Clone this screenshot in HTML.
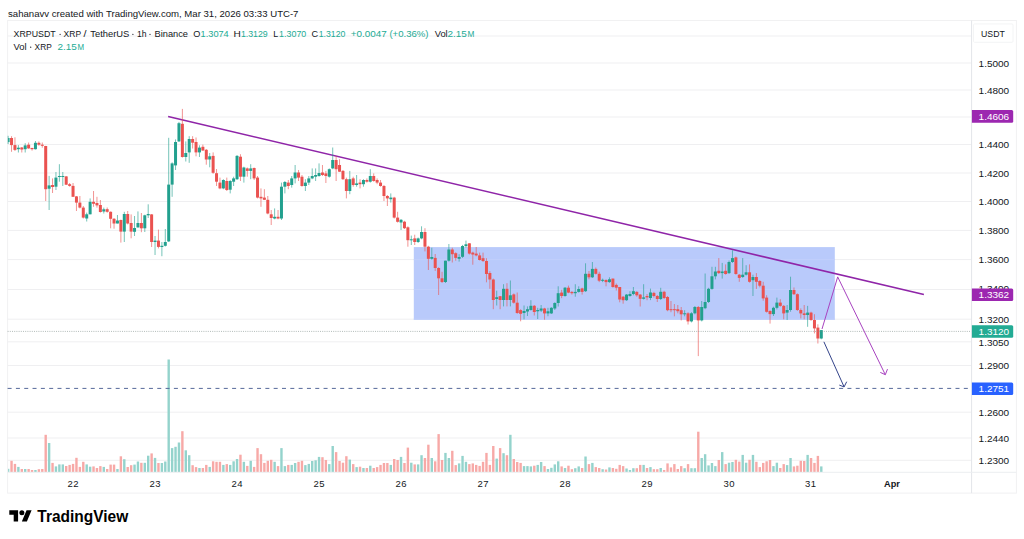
<!DOCTYPE html>
<html><head><meta charset="utf-8"><style>
html,body{margin:0;padding:0;background:#fff;width:1024px;height:539px;overflow:hidden}
svg{position:absolute;left:0;top:0}
text{font-family:"Liberation Sans",sans-serif}
</style></head><body>
<svg width="1024" height="539" viewBox="0 0 1024 539">

<text x="8" y="16.8" font-size="9.6" fill="#131722">sahanavv created with TradingView.com, Mar 31, 2026 03:33 UTC-7</text>
<rect x="7.6" y="20.5" width="1008.8" height="472.6" fill="#fff" stroke="#f1f1f2" stroke-width="1"/>
<line x1="7.6" y1="36" x2="971.6" y2="36" stroke="#efeff1" stroke-width="1"/>
<line x1="7.6" y1="63" x2="971.6" y2="63" stroke="#efeff1" stroke-width="1"/>
<line x1="7.6" y1="90" x2="971.6" y2="90" stroke="#efeff1" stroke-width="1"/>
<line x1="7.6" y1="117" x2="971.6" y2="117" stroke="#efeff1" stroke-width="1"/>
<line x1="7.6" y1="144.5" x2="971.6" y2="144.5" stroke="#efeff1" stroke-width="1"/>
<line x1="7.6" y1="173" x2="971.6" y2="173" stroke="#efeff1" stroke-width="1"/>
<line x1="7.6" y1="201.5" x2="971.6" y2="201.5" stroke="#efeff1" stroke-width="1"/>
<line x1="7.6" y1="230.4" x2="971.6" y2="230.4" stroke="#efeff1" stroke-width="1"/>
<line x1="7.6" y1="259.6" x2="971.6" y2="259.6" stroke="#efeff1" stroke-width="1"/>
<line x1="7.6" y1="289.5" x2="971.6" y2="289.5" stroke="#efeff1" stroke-width="1"/>
<line x1="7.6" y1="319.2" x2="971.6" y2="319.2" stroke="#efeff1" stroke-width="1"/>
<line x1="7.6" y1="341.8" x2="971.6" y2="341.8" stroke="#efeff1" stroke-width="1"/>
<line x1="7.6" y1="365.5" x2="971.6" y2="365.5" stroke="#efeff1" stroke-width="1"/>
<line x1="7.6" y1="412.2" x2="971.6" y2="412.2" stroke="#efeff1" stroke-width="1"/>
<line x1="7.6" y1="438" x2="971.6" y2="438" stroke="#efeff1" stroke-width="1"/>
<line x1="7.6" y1="460.3" x2="971.6" y2="460.3" stroke="#efeff1" stroke-width="1"/>
<rect x="413.8" y="247.1" width="421" height="72.7" fill="#b9cafb"/>
<line x1="413.8" y1="259.6" x2="834.8" y2="259.6" stroke="#c0cffb" stroke-width="1"/>
<line x1="413.8" y1="289.5" x2="834.8" y2="289.5" stroke="#c0cffb" stroke-width="1"/>
<line x1="413.8" y1="319.2" x2="834.8" y2="319.2" stroke="#c0cffb" stroke-width="1"/>
<rect x="8.10" y="468.8" width="1.22" height="3.20" fill="#94d3cc"/>
<rect x="10.34" y="460.8" width="2.40" height="11.20" fill="#f7a9a7"/>
<rect x="13.75" y="463.9" width="2.40" height="8.10" fill="#f7a9a7"/>
<rect x="17.17" y="466.9" width="2.40" height="5.10" fill="#94d3cc"/>
<rect x="20.59" y="469.0" width="2.40" height="3.00" fill="#f7a9a7"/>
<rect x="24.00" y="469.0" width="2.40" height="3.00" fill="#94d3cc"/>
<rect x="27.42" y="469.0" width="2.40" height="3.00" fill="#f7a9a7"/>
<rect x="30.84" y="470.0" width="2.40" height="2.00" fill="#f7a9a7"/>
<rect x="34.25" y="470.0" width="2.40" height="2.00" fill="#94d3cc"/>
<rect x="37.67" y="469.2" width="2.40" height="2.80" fill="#f7a9a7"/>
<rect x="41.09" y="469.0" width="2.40" height="3.00" fill="#f7a9a7"/>
<rect x="44.50" y="434.8" width="2.40" height="37.20" fill="#f7a9a7"/>
<rect x="47.92" y="443.0" width="2.40" height="29.00" fill="#94d3cc"/>
<rect x="51.34" y="462.9" width="2.40" height="9.10" fill="#f7a9a7"/>
<rect x="54.75" y="466.4" width="2.40" height="5.60" fill="#94d3cc"/>
<rect x="58.17" y="464.4" width="2.40" height="7.60" fill="#94d3cc"/>
<rect x="61.59" y="464.4" width="2.40" height="7.60" fill="#94d3cc"/>
<rect x="65.00" y="466.0" width="2.40" height="6.00" fill="#f7a9a7"/>
<rect x="68.42" y="464.9" width="2.40" height="7.10" fill="#f7a9a7"/>
<rect x="71.84" y="463.9" width="2.40" height="8.10" fill="#f7a9a7"/>
<rect x="75.25" y="457.8" width="2.40" height="14.20" fill="#f7a9a7"/>
<rect x="78.67" y="466.9" width="2.40" height="5.10" fill="#f7a9a7"/>
<rect x="82.09" y="461.8" width="2.40" height="10.20" fill="#f7a9a7"/>
<rect x="85.50" y="464.4" width="2.40" height="7.60" fill="#94d3cc"/>
<rect x="88.92" y="466.7" width="2.40" height="5.30" fill="#94d3cc"/>
<rect x="92.34" y="466.4" width="2.40" height="5.60" fill="#f7a9a7"/>
<rect x="95.75" y="468.0" width="2.40" height="4.00" fill="#f7a9a7"/>
<rect x="99.17" y="466.1" width="2.40" height="5.90" fill="#f7a9a7"/>
<rect x="102.59" y="466.9" width="2.40" height="5.10" fill="#94d3cc"/>
<rect x="106.00" y="469.0" width="2.40" height="3.00" fill="#f7a9a7"/>
<rect x="109.42" y="464.6" width="2.40" height="7.40" fill="#f7a9a7"/>
<rect x="112.84" y="464.6" width="2.40" height="7.40" fill="#f7a9a7"/>
<rect x="116.25" y="469.0" width="2.40" height="3.00" fill="#94d3cc"/>
<rect x="119.67" y="456.3" width="2.40" height="15.70" fill="#f7a9a7"/>
<rect x="123.09" y="459.2" width="2.40" height="12.80" fill="#94d3cc"/>
<rect x="126.50" y="467.0" width="2.40" height="5.00" fill="#f7a9a7"/>
<rect x="129.92" y="465.2" width="2.40" height="6.80" fill="#f7a9a7"/>
<rect x="133.34" y="464.6" width="2.40" height="7.40" fill="#94d3cc"/>
<rect x="136.75" y="461.5" width="2.40" height="10.50" fill="#94d3cc"/>
<rect x="140.17" y="462.8" width="2.40" height="9.20" fill="#f7a9a7"/>
<rect x="143.59" y="462.8" width="2.40" height="9.20" fill="#94d3cc"/>
<rect x="147.00" y="455.7" width="2.40" height="16.30" fill="#94d3cc"/>
<rect x="150.42" y="453.4" width="2.40" height="18.60" fill="#f7a9a7"/>
<rect x="153.84" y="457.9" width="2.40" height="14.10" fill="#94d3cc"/>
<rect x="157.25" y="463.0" width="2.40" height="9.00" fill="#f7a9a7"/>
<rect x="160.67" y="463.0" width="2.40" height="9.00" fill="#94d3cc"/>
<rect x="164.09" y="461.5" width="2.40" height="10.50" fill="#94d3cc"/>
<rect x="167.50" y="359.5" width="2.40" height="112.50" fill="#94d3cc"/>
<rect x="170.92" y="448.1" width="2.40" height="23.90" fill="#94d3cc"/>
<rect x="174.34" y="446.8" width="2.40" height="25.20" fill="#94d3cc"/>
<rect x="177.76" y="442.5" width="2.40" height="29.50" fill="#94d3cc"/>
<rect x="181.17" y="431.2" width="2.40" height="40.80" fill="#f7a9a7"/>
<rect x="184.59" y="450.3" width="2.40" height="21.70" fill="#94d3cc"/>
<rect x="188.01" y="455.2" width="2.40" height="16.80" fill="#94d3cc"/>
<rect x="191.42" y="465.2" width="2.40" height="6.80" fill="#f7a9a7"/>
<rect x="194.84" y="467.1" width="2.40" height="4.90" fill="#f7a9a7"/>
<rect x="198.26" y="468.0" width="2.40" height="4.00" fill="#94d3cc"/>
<rect x="201.67" y="468.0" width="2.40" height="4.00" fill="#f7a9a7"/>
<rect x="205.09" y="464.9" width="2.40" height="7.10" fill="#f7a9a7"/>
<rect x="208.51" y="466.9" width="2.40" height="5.10" fill="#94d3cc"/>
<rect x="211.92" y="461.3" width="2.40" height="10.70" fill="#f7a9a7"/>
<rect x="215.34" y="461.8" width="2.40" height="10.20" fill="#f7a9a7"/>
<rect x="218.76" y="461.8" width="2.40" height="10.20" fill="#f7a9a7"/>
<rect x="222.17" y="464.9" width="2.40" height="7.10" fill="#94d3cc"/>
<rect x="225.59" y="464.1" width="2.40" height="7.90" fill="#f7a9a7"/>
<rect x="229.01" y="464.9" width="2.40" height="7.10" fill="#94d3cc"/>
<rect x="232.42" y="461.3" width="2.40" height="10.70" fill="#94d3cc"/>
<rect x="235.84" y="459.0" width="2.40" height="13.00" fill="#94d3cc"/>
<rect x="239.26" y="454.7" width="2.40" height="17.30" fill="#f7a9a7"/>
<rect x="242.67" y="461.8" width="2.40" height="10.20" fill="#94d3cc"/>
<rect x="246.09" y="465.9" width="2.40" height="6.10" fill="#f7a9a7"/>
<rect x="249.51" y="460.8" width="2.40" height="11.20" fill="#94d3cc"/>
<rect x="252.92" y="466.9" width="2.40" height="5.10" fill="#f7a9a7"/>
<rect x="256.34" y="448.1" width="2.40" height="23.90" fill="#f7a9a7"/>
<rect x="259.76" y="454.2" width="2.40" height="17.80" fill="#f7a9a7"/>
<rect x="263.17" y="462.9" width="2.40" height="9.10" fill="#f7a9a7"/>
<rect x="266.59" y="460.8" width="2.40" height="11.20" fill="#f7a9a7"/>
<rect x="270.01" y="459.8" width="2.40" height="12.20" fill="#f7a9a7"/>
<rect x="273.42" y="461.8" width="2.40" height="10.20" fill="#94d3cc"/>
<rect x="276.84" y="466.1" width="2.40" height="5.90" fill="#f7a9a7"/>
<rect x="280.26" y="448.1" width="2.40" height="23.90" fill="#94d3cc"/>
<rect x="283.67" y="466.1" width="2.40" height="5.90" fill="#94d3cc"/>
<rect x="287.09" y="464.9" width="2.40" height="7.10" fill="#f7a9a7"/>
<rect x="290.51" y="464.9" width="2.40" height="7.10" fill="#94d3cc"/>
<rect x="293.92" y="463.0" width="2.40" height="9.00" fill="#94d3cc"/>
<rect x="297.34" y="461.8" width="2.40" height="10.20" fill="#f7a9a7"/>
<rect x="300.76" y="460.8" width="2.40" height="11.20" fill="#f7a9a7"/>
<rect x="304.17" y="465.1" width="2.40" height="6.90" fill="#94d3cc"/>
<rect x="307.59" y="463.9" width="2.40" height="8.10" fill="#94d3cc"/>
<rect x="311.01" y="461.0" width="2.40" height="11.00" fill="#94d3cc"/>
<rect x="314.42" y="460.3" width="2.40" height="11.70" fill="#94d3cc"/>
<rect x="317.84" y="456.9" width="2.40" height="15.10" fill="#94d3cc"/>
<rect x="321.26" y="457.2" width="2.40" height="14.80" fill="#f7a9a7"/>
<rect x="324.67" y="460.0" width="2.40" height="12.00" fill="#f7a9a7"/>
<rect x="328.09" y="464.1" width="2.40" height="7.90" fill="#94d3cc"/>
<rect x="331.51" y="446.0" width="2.40" height="26.00" fill="#94d3cc"/>
<rect x="334.92" y="452.1" width="2.40" height="19.90" fill="#f7a9a7"/>
<rect x="338.34" y="461.0" width="2.40" height="11.00" fill="#f7a9a7"/>
<rect x="341.76" y="462.7" width="2.40" height="9.30" fill="#f7a9a7"/>
<rect x="345.17" y="456.2" width="2.40" height="15.80" fill="#f7a9a7"/>
<rect x="348.59" y="459.6" width="2.40" height="12.40" fill="#94d3cc"/>
<rect x="352.01" y="464.1" width="2.40" height="7.90" fill="#f7a9a7"/>
<rect x="355.42" y="467.1" width="2.40" height="4.90" fill="#94d3cc"/>
<rect x="358.84" y="466.7" width="2.40" height="5.30" fill="#f7a9a7"/>
<rect x="362.26" y="468.0" width="2.40" height="4.00" fill="#94d3cc"/>
<rect x="365.67" y="468.0" width="2.40" height="4.00" fill="#f7a9a7"/>
<rect x="369.09" y="465.7" width="2.40" height="6.30" fill="#94d3cc"/>
<rect x="372.51" y="468.0" width="2.40" height="4.00" fill="#f7a9a7"/>
<rect x="375.92" y="467.1" width="2.40" height="4.90" fill="#f7a9a7"/>
<rect x="379.34" y="464.9" width="2.40" height="7.10" fill="#f7a9a7"/>
<rect x="382.76" y="463.0" width="2.40" height="9.00" fill="#f7a9a7"/>
<rect x="386.17" y="463.0" width="2.40" height="9.00" fill="#f7a9a7"/>
<rect x="389.59" y="464.9" width="2.40" height="7.10" fill="#94d3cc"/>
<rect x="393.01" y="459.0" width="2.40" height="13.00" fill="#f7a9a7"/>
<rect x="396.42" y="460.0" width="2.40" height="12.00" fill="#f7a9a7"/>
<rect x="399.84" y="456.9" width="2.40" height="15.10" fill="#94d3cc"/>
<rect x="403.26" y="463.0" width="2.40" height="9.00" fill="#f7a9a7"/>
<rect x="406.67" y="447.6" width="2.40" height="24.40" fill="#f7a9a7"/>
<rect x="410.09" y="462.7" width="2.40" height="9.30" fill="#94d3cc"/>
<rect x="413.51" y="464.4" width="2.40" height="7.60" fill="#f7a9a7"/>
<rect x="416.92" y="464.4" width="2.40" height="7.60" fill="#94d3cc"/>
<rect x="420.34" y="455.2" width="2.40" height="16.80" fill="#94d3cc"/>
<rect x="423.76" y="458.0" width="2.40" height="14.00" fill="#f7a9a7"/>
<rect x="427.17" y="444.7" width="2.40" height="27.30" fill="#f7a9a7"/>
<rect x="430.59" y="458.0" width="2.40" height="14.00" fill="#94d3cc"/>
<rect x="434.01" y="461.3" width="2.40" height="10.70" fill="#f7a9a7"/>
<rect x="437.42" y="434.1" width="2.40" height="37.90" fill="#f7a9a7"/>
<rect x="440.84" y="460.0" width="2.40" height="12.00" fill="#f7a9a7"/>
<rect x="444.26" y="452.9" width="2.40" height="19.10" fill="#94d3cc"/>
<rect x="447.67" y="458.0" width="2.40" height="14.00" fill="#94d3cc"/>
<rect x="451.09" y="450.8" width="2.40" height="21.20" fill="#f7a9a7"/>
<rect x="454.51" y="465.1" width="2.40" height="6.90" fill="#f7a9a7"/>
<rect x="457.92" y="463.4" width="2.40" height="8.60" fill="#94d3cc"/>
<rect x="461.34" y="455.9" width="2.40" height="16.10" fill="#94d3cc"/>
<rect x="464.76" y="461.8" width="2.40" height="10.20" fill="#94d3cc"/>
<rect x="468.17" y="464.1" width="2.40" height="7.90" fill="#f7a9a7"/>
<rect x="471.59" y="463.4" width="2.40" height="8.60" fill="#f7a9a7"/>
<rect x="475.01" y="464.9" width="2.40" height="7.10" fill="#f7a9a7"/>
<rect x="478.42" y="465.9" width="2.40" height="6.10" fill="#f7a9a7"/>
<rect x="481.84" y="461.8" width="2.40" height="10.20" fill="#f7a9a7"/>
<rect x="485.26" y="452.9" width="2.40" height="19.10" fill="#f7a9a7"/>
<rect x="488.67" y="464.9" width="2.40" height="7.10" fill="#f7a9a7"/>
<rect x="492.09" y="446.0" width="2.40" height="26.00" fill="#f7a9a7"/>
<rect x="495.51" y="458.6" width="2.40" height="13.40" fill="#94d3cc"/>
<rect x="498.92" y="448.1" width="2.40" height="23.90" fill="#f7a9a7"/>
<rect x="502.34" y="453.2" width="2.40" height="18.80" fill="#94d3cc"/>
<rect x="505.76" y="455.2" width="2.40" height="16.80" fill="#f7a9a7"/>
<rect x="509.17" y="434.8" width="2.40" height="37.20" fill="#94d3cc"/>
<rect x="512.59" y="459.0" width="2.40" height="13.00" fill="#f7a9a7"/>
<rect x="516.01" y="462.0" width="2.40" height="10.00" fill="#f7a9a7"/>
<rect x="519.42" y="462.9" width="2.40" height="9.10" fill="#f7a9a7"/>
<rect x="522.84" y="466.1" width="2.40" height="5.90" fill="#94d3cc"/>
<rect x="526.26" y="466.1" width="2.40" height="5.90" fill="#94d3cc"/>
<rect x="529.68" y="466.4" width="2.40" height="5.60" fill="#94d3cc"/>
<rect x="533.09" y="465.7" width="2.40" height="6.30" fill="#f7a9a7"/>
<rect x="536.51" y="464.9" width="2.40" height="7.10" fill="#94d3cc"/>
<rect x="539.93" y="462.0" width="2.40" height="10.00" fill="#94d3cc"/>
<rect x="543.34" y="466.1" width="2.40" height="5.90" fill="#f7a9a7"/>
<rect x="546.76" y="469.0" width="2.40" height="3.00" fill="#94d3cc"/>
<rect x="550.18" y="467.8" width="2.40" height="4.20" fill="#94d3cc"/>
<rect x="553.59" y="464.4" width="2.40" height="7.60" fill="#94d3cc"/>
<rect x="557.01" y="461.3" width="2.40" height="10.70" fill="#94d3cc"/>
<rect x="560.43" y="466.4" width="2.40" height="5.60" fill="#f7a9a7"/>
<rect x="563.84" y="468.0" width="2.40" height="4.00" fill="#94d3cc"/>
<rect x="567.26" y="465.7" width="2.40" height="6.30" fill="#f7a9a7"/>
<rect x="570.68" y="469.2" width="2.40" height="2.80" fill="#f7a9a7"/>
<rect x="574.09" y="468.2" width="2.40" height="3.80" fill="#94d3cc"/>
<rect x="577.51" y="466.4" width="2.40" height="5.60" fill="#94d3cc"/>
<rect x="580.93" y="468.0" width="2.40" height="4.00" fill="#f7a9a7"/>
<rect x="584.34" y="456.5" width="2.40" height="15.50" fill="#94d3cc"/>
<rect x="587.76" y="464.1" width="2.40" height="7.90" fill="#f7a9a7"/>
<rect x="591.18" y="462.9" width="2.40" height="9.10" fill="#94d3cc"/>
<rect x="594.59" y="467.1" width="2.40" height="4.90" fill="#f7a9a7"/>
<rect x="598.01" y="468.0" width="2.40" height="4.00" fill="#f7a9a7"/>
<rect x="601.43" y="469.2" width="2.40" height="2.80" fill="#94d3cc"/>
<rect x="604.84" y="469.5" width="2.40" height="2.50" fill="#f7a9a7"/>
<rect x="608.26" y="467.4" width="2.40" height="4.60" fill="#94d3cc"/>
<rect x="611.68" y="468.0" width="2.40" height="4.00" fill="#f7a9a7"/>
<rect x="615.09" y="468.8" width="2.40" height="3.20" fill="#f7a9a7"/>
<rect x="618.51" y="464.9" width="2.40" height="7.10" fill="#f7a9a7"/>
<rect x="621.93" y="466.1" width="2.40" height="5.90" fill="#f7a9a7"/>
<rect x="625.34" y="468.5" width="2.40" height="3.50" fill="#94d3cc"/>
<rect x="628.76" y="470.0" width="2.40" height="2.00" fill="#94d3cc"/>
<rect x="632.18" y="468.2" width="2.40" height="3.80" fill="#94d3cc"/>
<rect x="635.59" y="468.2" width="2.40" height="3.80" fill="#f7a9a7"/>
<rect x="639.01" y="464.9" width="2.40" height="7.10" fill="#f7a9a7"/>
<rect x="642.43" y="464.9" width="2.40" height="7.10" fill="#94d3cc"/>
<rect x="645.84" y="468.0" width="2.40" height="4.00" fill="#f7a9a7"/>
<rect x="649.26" y="467.1" width="2.40" height="4.90" fill="#94d3cc"/>
<rect x="652.68" y="469.2" width="2.40" height="2.80" fill="#f7a9a7"/>
<rect x="656.09" y="469.2" width="2.40" height="2.80" fill="#f7a9a7"/>
<rect x="659.51" y="468.0" width="2.40" height="4.00" fill="#94d3cc"/>
<rect x="662.93" y="470.0" width="2.40" height="2.00" fill="#f7a9a7"/>
<rect x="666.34" y="463.4" width="2.40" height="8.60" fill="#f7a9a7"/>
<rect x="669.76" y="467.4" width="2.40" height="4.60" fill="#f7a9a7"/>
<rect x="673.18" y="464.1" width="2.40" height="7.90" fill="#f7a9a7"/>
<rect x="676.59" y="469.0" width="2.40" height="3.00" fill="#f7a9a7"/>
<rect x="680.01" y="466.1" width="2.40" height="5.90" fill="#f7a9a7"/>
<rect x="683.43" y="468.2" width="2.40" height="3.80" fill="#94d3cc"/>
<rect x="686.84" y="464.1" width="2.40" height="7.90" fill="#f7a9a7"/>
<rect x="690.26" y="468.2" width="2.40" height="3.80" fill="#94d3cc"/>
<rect x="693.68" y="468.2" width="2.40" height="3.80" fill="#94d3cc"/>
<rect x="697.09" y="431.7" width="2.40" height="40.30" fill="#f7a9a7"/>
<rect x="700.51" y="458.0" width="2.40" height="14.00" fill="#94d3cc"/>
<rect x="703.93" y="454.2" width="2.40" height="17.80" fill="#94d3cc"/>
<rect x="707.34" y="465.4" width="2.40" height="6.60" fill="#94d3cc"/>
<rect x="710.76" y="463.0" width="2.40" height="9.00" fill="#94d3cc"/>
<rect x="714.18" y="466.1" width="2.40" height="5.90" fill="#94d3cc"/>
<rect x="717.59" y="460.0" width="2.40" height="12.00" fill="#f7a9a7"/>
<rect x="721.01" y="452.1" width="2.40" height="19.90" fill="#94d3cc"/>
<rect x="724.43" y="464.1" width="2.40" height="7.90" fill="#f7a9a7"/>
<rect x="727.84" y="462.7" width="2.40" height="9.30" fill="#94d3cc"/>
<rect x="731.26" y="462.0" width="2.40" height="10.00" fill="#94d3cc"/>
<rect x="734.68" y="459.8" width="2.40" height="12.20" fill="#f7a9a7"/>
<rect x="738.09" y="461.6" width="2.40" height="10.40" fill="#f7a9a7"/>
<rect x="741.51" y="454.9" width="2.40" height="17.10" fill="#94d3cc"/>
<rect x="744.93" y="462.7" width="2.40" height="9.30" fill="#94d3cc"/>
<rect x="748.34" y="459.8" width="2.40" height="12.20" fill="#f7a9a7"/>
<rect x="751.76" y="454.9" width="2.40" height="17.10" fill="#94d3cc"/>
<rect x="755.18" y="461.8" width="2.40" height="10.20" fill="#f7a9a7"/>
<rect x="758.59" y="467.1" width="2.40" height="4.90" fill="#f7a9a7"/>
<rect x="762.01" y="462.9" width="2.40" height="9.10" fill="#f7a9a7"/>
<rect x="765.43" y="461.3" width="2.40" height="10.70" fill="#f7a9a7"/>
<rect x="768.84" y="460.0" width="2.40" height="12.00" fill="#f7a9a7"/>
<rect x="772.26" y="466.1" width="2.40" height="5.90" fill="#94d3cc"/>
<rect x="775.68" y="462.7" width="2.40" height="9.30" fill="#94d3cc"/>
<rect x="779.09" y="468.0" width="2.40" height="4.00" fill="#f7a9a7"/>
<rect x="782.51" y="464.1" width="2.40" height="7.90" fill="#f7a9a7"/>
<rect x="785.93" y="465.1" width="2.40" height="6.90" fill="#94d3cc"/>
<rect x="789.34" y="458.0" width="2.40" height="14.00" fill="#94d3cc"/>
<rect x="792.76" y="466.4" width="2.40" height="5.60" fill="#f7a9a7"/>
<rect x="796.18" y="465.7" width="2.40" height="6.30" fill="#f7a9a7"/>
<rect x="799.59" y="460.8" width="2.40" height="11.20" fill="#f7a9a7"/>
<rect x="803.01" y="461.0" width="2.40" height="11.00" fill="#f7a9a7"/>
<rect x="806.43" y="454.9" width="2.40" height="17.10" fill="#94d3cc"/>
<rect x="809.84" y="458.0" width="2.40" height="14.00" fill="#f7a9a7"/>
<rect x="813.26" y="462.9" width="2.40" height="9.10" fill="#f7a9a7"/>
<rect x="816.68" y="455.9" width="2.40" height="16.10" fill="#f7a9a7"/>
<rect x="820.09" y="466.4" width="2.40" height="5.60" fill="#94d3cc"/>
<line x1="168.1" y1="116.5" x2="923.9" y2="294.5" stroke="#8f25a8" stroke-width="1.6"/>
<rect x="7.62" y="135.8" width="1" height="8.20" fill="#22a08e" fill-opacity="0.62"/>
<rect x="8.10" y="138" width="1.52" height="4.10" fill="#22a08e"/>
<rect x="11.04" y="136.2" width="1" height="15.60" fill="#ea5250" fill-opacity="0.62"/>
<rect x="10.04" y="138" width="3.00" height="7.10" fill="#ea5250"/>
<rect x="14.45" y="137.3" width="1" height="13.70" fill="#ea5250" fill-opacity="0.62"/>
<rect x="13.45" y="145.1" width="3.00" height="4.80" fill="#ea5250"/>
<rect x="17.87" y="145.1" width="1" height="7.40" fill="#22a08e" fill-opacity="0.62"/>
<rect x="16.87" y="147.7" width="3.00" height="1.50" fill="#22a08e"/>
<rect x="21.29" y="147" width="1" height="5.50" fill="#ea5250" fill-opacity="0.62"/>
<rect x="20.29" y="147.5" width="3.00" height="2.00" fill="#ea5250"/>
<rect x="24.70" y="143.2" width="1" height="9.30" fill="#22a08e" fill-opacity="0.62"/>
<rect x="23.70" y="145.4" width="3.00" height="3.80" fill="#22a08e"/>
<rect x="28.12" y="142.5" width="1" height="6.30" fill="#ea5250" fill-opacity="0.62"/>
<rect x="27.12" y="144.7" width="3.00" height="3.70" fill="#ea5250"/>
<rect x="31.54" y="147.7" width="1" height="2.90" fill="#ea5250" fill-opacity="0.62"/>
<rect x="30.54" y="148" width="3.00" height="1.20" fill="#ea5250"/>
<rect x="34.95" y="141" width="1" height="8.50" fill="#22a08e" fill-opacity="0.62"/>
<rect x="33.95" y="142.8" width="3.00" height="6.40" fill="#22a08e"/>
<rect x="38.37" y="141.4" width="1" height="4.40" fill="#ea5250" fill-opacity="0.62"/>
<rect x="37.37" y="142.8" width="3.00" height="1.90" fill="#ea5250"/>
<rect x="41.79" y="142.5" width="1" height="5.20" fill="#ea5250" fill-opacity="0.62"/>
<rect x="40.79" y="144.7" width="3.00" height="1.10" fill="#ea5250"/>
<rect x="45.20" y="145.8" width="1" height="55.20" fill="#ea5250" fill-opacity="0.62"/>
<rect x="44.20" y="146.0" width="3.00" height="43.20" fill="#ea5250"/>
<rect x="48.62" y="175.9" width="1" height="34.10" fill="#22a08e" fill-opacity="0.62"/>
<rect x="47.62" y="185.4" width="3.00" height="3.30" fill="#22a08e"/>
<rect x="52.04" y="178.4" width="1" height="14.60" fill="#ea5250" fill-opacity="0.62"/>
<rect x="51.04" y="185" width="3.00" height="2.00" fill="#ea5250"/>
<rect x="55.45" y="172" width="1" height="18.00" fill="#22a08e" fill-opacity="0.62"/>
<rect x="54.45" y="177.6" width="3.00" height="9.10" fill="#22a08e"/>
<rect x="58.87" y="164.2" width="1" height="17.50" fill="#22a08e" fill-opacity="0.62"/>
<rect x="57.87" y="176" width="3.00" height="1.00" fill="#22a08e"/>
<rect x="62.29" y="172" width="1" height="14.00" fill="#22a08e" fill-opacity="0.62"/>
<rect x="61.29" y="176" width="3.00" height="1.00" fill="#22a08e"/>
<rect x="65.70" y="176" width="1" height="9.00" fill="#ea5250" fill-opacity="0.62"/>
<rect x="64.70" y="176.4" width="3.00" height="8.30" fill="#ea5250"/>
<rect x="69.12" y="183" width="1" height="3.70" fill="#ea5250" fill-opacity="0.62"/>
<rect x="68.12" y="184.2" width="3.00" height="1.70" fill="#ea5250"/>
<rect x="72.54" y="183" width="1" height="13.80" fill="#ea5250" fill-opacity="0.62"/>
<rect x="71.54" y="185.9" width="3.00" height="10.90" fill="#ea5250"/>
<rect x="75.95" y="196" width="1" height="15.00" fill="#ea5250" fill-opacity="0.62"/>
<rect x="74.95" y="196.4" width="3.00" height="6.20" fill="#ea5250"/>
<rect x="79.37" y="196" width="1" height="12.40" fill="#ea5250" fill-opacity="0.62"/>
<rect x="78.37" y="202.6" width="3.00" height="5.00" fill="#ea5250"/>
<rect x="82.79" y="206" width="1" height="12.50" fill="#ea5250" fill-opacity="0.62"/>
<rect x="81.79" y="207.6" width="3.00" height="10.00" fill="#ea5250"/>
<rect x="86.20" y="212.6" width="1" height="8.90" fill="#22a08e" fill-opacity="0.62"/>
<rect x="85.20" y="214.3" width="3.00" height="4.20" fill="#22a08e"/>
<rect x="89.62" y="198.4" width="1" height="15.90" fill="#22a08e" fill-opacity="0.62"/>
<rect x="88.62" y="201.8" width="3.00" height="12.50" fill="#22a08e"/>
<rect x="93.04" y="191" width="1" height="15.80" fill="#ea5250" fill-opacity="0.62"/>
<rect x="92.04" y="201.8" width="3.00" height="2.00" fill="#ea5250"/>
<rect x="96.45" y="196.8" width="1" height="10.80" fill="#ea5250" fill-opacity="0.62"/>
<rect x="95.45" y="203" width="3.00" height="2.40" fill="#ea5250"/>
<rect x="99.87" y="200" width="1" height="12.60" fill="#ea5250" fill-opacity="0.62"/>
<rect x="98.87" y="205" width="3.00" height="7.00" fill="#ea5250"/>
<rect x="103.29" y="207.6" width="1" height="5.90" fill="#22a08e" fill-opacity="0.62"/>
<rect x="102.29" y="209.3" width="3.00" height="2.20" fill="#22a08e"/>
<rect x="106.70" y="207.5" width="1" height="5.20" fill="#ea5250" fill-opacity="0.62"/>
<rect x="105.70" y="209.2" width="3.00" height="2.60" fill="#ea5250"/>
<rect x="110.12" y="211.4" width="1" height="16.90" fill="#ea5250" fill-opacity="0.62"/>
<rect x="109.12" y="211.8" width="3.00" height="7.00" fill="#ea5250"/>
<rect x="113.54" y="218" width="1" height="10.70" fill="#ea5250" fill-opacity="0.62"/>
<rect x="112.54" y="218.8" width="3.00" height="4.70" fill="#ea5250"/>
<rect x="116.95" y="215" width="1" height="8.50" fill="#22a08e" fill-opacity="0.62"/>
<rect x="115.95" y="220.5" width="3.00" height="3.00" fill="#22a08e"/>
<rect x="120.37" y="219.6" width="1" height="23.00" fill="#ea5250" fill-opacity="0.62"/>
<rect x="119.37" y="220" width="3.00" height="11.60" fill="#ea5250"/>
<rect x="123.79" y="211.8" width="1" height="30.20" fill="#22a08e" fill-opacity="0.62"/>
<rect x="122.79" y="214" width="3.00" height="17.60" fill="#22a08e"/>
<rect x="127.20" y="211" width="1" height="13.40" fill="#ea5250" fill-opacity="0.62"/>
<rect x="126.20" y="214" width="3.00" height="9.50" fill="#ea5250"/>
<rect x="130.62" y="214.4" width="1" height="23.90" fill="#ea5250" fill-opacity="0.62"/>
<rect x="129.62" y="223" width="3.00" height="8.60" fill="#ea5250"/>
<rect x="134.04" y="216" width="1" height="20.00" fill="#22a08e" fill-opacity="0.62"/>
<rect x="133.04" y="228" width="3.00" height="3.80" fill="#22a08e"/>
<rect x="137.45" y="211.4" width="1" height="16.30" fill="#22a08e" fill-opacity="0.62"/>
<rect x="136.45" y="223" width="3.00" height="4.40" fill="#22a08e"/>
<rect x="140.87" y="213" width="1" height="19.20" fill="#ea5250" fill-opacity="0.62"/>
<rect x="139.87" y="223" width="3.00" height="5.30" fill="#ea5250"/>
<rect x="144.29" y="214.7" width="1" height="17.30" fill="#22a08e" fill-opacity="0.62"/>
<rect x="143.29" y="215.3" width="3.00" height="13.00" fill="#22a08e"/>
<rect x="147.70" y="204.3" width="1" height="13.70" fill="#22a08e" fill-opacity="0.62"/>
<rect x="146.70" y="214" width="3.00" height="1.30" fill="#22a08e"/>
<rect x="151.12" y="214" width="1" height="33.00" fill="#ea5250" fill-opacity="0.62"/>
<rect x="150.12" y="214.4" width="3.00" height="27.60" fill="#ea5250"/>
<rect x="154.54" y="236" width="1" height="19.00" fill="#22a08e" fill-opacity="0.62"/>
<rect x="153.54" y="240.6" width="3.00" height="1.40" fill="#22a08e"/>
<rect x="157.95" y="229.6" width="1" height="18.80" fill="#ea5250" fill-opacity="0.62"/>
<rect x="156.95" y="240.6" width="3.00" height="6.30" fill="#ea5250"/>
<rect x="161.37" y="242" width="1" height="14.20" fill="#22a08e" fill-opacity="0.62"/>
<rect x="160.37" y="245.8" width="3.00" height="1.20" fill="#22a08e"/>
<rect x="164.79" y="229" width="1" height="17.50" fill="#22a08e" fill-opacity="0.62"/>
<rect x="163.79" y="242" width="3.00" height="3.80" fill="#22a08e"/>
<rect x="168.20" y="137.8" width="1" height="104.20" fill="#22a08e" fill-opacity="0.62"/>
<rect x="167.20" y="184.6" width="3.00" height="56.80" fill="#22a08e"/>
<rect x="171.62" y="162.3" width="1" height="34.50" fill="#22a08e" fill-opacity="0.62"/>
<rect x="170.62" y="163.4" width="3.00" height="21.20" fill="#22a08e"/>
<rect x="175.04" y="139.4" width="1" height="30.60" fill="#22a08e" fill-opacity="0.62"/>
<rect x="174.04" y="142" width="3.00" height="23.40" fill="#22a08e"/>
<rect x="178.46" y="121.9" width="1" height="20.10" fill="#22a08e" fill-opacity="0.62"/>
<rect x="177.46" y="123.2" width="3.00" height="18.20" fill="#22a08e"/>
<rect x="181.87" y="108.9" width="1" height="48.70" fill="#ea5250" fill-opacity="0.62"/>
<rect x="180.87" y="123.8" width="3.00" height="33.20" fill="#ea5250"/>
<rect x="185.29" y="141.4" width="1" height="20.10" fill="#22a08e" fill-opacity="0.62"/>
<rect x="184.29" y="153" width="3.00" height="4.00" fill="#22a08e"/>
<rect x="188.71" y="136.2" width="1" height="26.60" fill="#22a08e" fill-opacity="0.62"/>
<rect x="187.71" y="139" width="3.00" height="13.40" fill="#22a08e"/>
<rect x="192.12" y="136.2" width="1" height="12.30" fill="#ea5250" fill-opacity="0.62"/>
<rect x="191.12" y="139" width="3.00" height="3.70" fill="#ea5250"/>
<rect x="195.54" y="137.5" width="1" height="18.80" fill="#ea5250" fill-opacity="0.62"/>
<rect x="194.54" y="142" width="3.00" height="10.40" fill="#ea5250"/>
<rect x="198.96" y="145.3" width="1" height="11.70" fill="#22a08e" fill-opacity="0.62"/>
<rect x="197.96" y="147.6" width="3.00" height="4.80" fill="#22a08e"/>
<rect x="202.37" y="144.6" width="1" height="6.40" fill="#ea5250" fill-opacity="0.62"/>
<rect x="201.37" y="146.8" width="3.00" height="3.70" fill="#ea5250"/>
<rect x="205.79" y="149" width="1" height="15.70" fill="#ea5250" fill-opacity="0.62"/>
<rect x="204.79" y="149.8" width="3.00" height="9.70" fill="#ea5250"/>
<rect x="209.21" y="153" width="1" height="14.30" fill="#22a08e" fill-opacity="0.62"/>
<rect x="208.21" y="156.3" width="3.00" height="3.20" fill="#22a08e"/>
<rect x="212.62" y="152.4" width="1" height="21.40" fill="#ea5250" fill-opacity="0.62"/>
<rect x="211.62" y="155.9" width="3.00" height="16.90" fill="#ea5250"/>
<rect x="216.04" y="169" width="1" height="17.00" fill="#ea5250" fill-opacity="0.62"/>
<rect x="215.04" y="173.2" width="3.00" height="8.50" fill="#ea5250"/>
<rect x="219.46" y="177.6" width="1" height="11.60" fill="#ea5250" fill-opacity="0.62"/>
<rect x="218.46" y="182.6" width="3.00" height="5.80" fill="#ea5250"/>
<rect x="222.87" y="179.2" width="1" height="10.00" fill="#22a08e" fill-opacity="0.62"/>
<rect x="221.87" y="180" width="3.00" height="8.40" fill="#22a08e"/>
<rect x="226.29" y="177.6" width="1" height="13.40" fill="#ea5250" fill-opacity="0.62"/>
<rect x="225.29" y="181" width="3.00" height="9.00" fill="#ea5250"/>
<rect x="229.71" y="180" width="1" height="13.40" fill="#22a08e" fill-opacity="0.62"/>
<rect x="228.71" y="181" width="3.00" height="8.70" fill="#22a08e"/>
<rect x="233.12" y="176.7" width="1" height="9.30" fill="#22a08e" fill-opacity="0.62"/>
<rect x="232.12" y="178.4" width="3.00" height="3.30" fill="#22a08e"/>
<rect x="236.54" y="155" width="1" height="25.00" fill="#22a08e" fill-opacity="0.62"/>
<rect x="235.54" y="155.9" width="3.00" height="23.30" fill="#22a08e"/>
<rect x="239.96" y="154.2" width="1" height="26.80" fill="#ea5250" fill-opacity="0.62"/>
<rect x="238.96" y="156.7" width="3.00" height="20.00" fill="#ea5250"/>
<rect x="243.37" y="166.7" width="1" height="15.90" fill="#22a08e" fill-opacity="0.62"/>
<rect x="242.37" y="167.5" width="3.00" height="9.20" fill="#22a08e"/>
<rect x="246.79" y="167.5" width="1" height="9.20" fill="#ea5250" fill-opacity="0.62"/>
<rect x="245.79" y="168.4" width="3.00" height="2.50" fill="#ea5250"/>
<rect x="250.21" y="164.2" width="1" height="15.00" fill="#22a08e" fill-opacity="0.62"/>
<rect x="249.21" y="168.4" width="3.00" height="2.50" fill="#22a08e"/>
<rect x="253.62" y="167.5" width="1" height="12.50" fill="#ea5250" fill-opacity="0.62"/>
<rect x="252.62" y="168" width="3.00" height="10.40" fill="#ea5250"/>
<rect x="257.04" y="176" width="1" height="22.40" fill="#ea5250" fill-opacity="0.62"/>
<rect x="256.04" y="177.6" width="3.00" height="20.00" fill="#ea5250"/>
<rect x="260.46" y="188.4" width="1" height="18.40" fill="#ea5250" fill-opacity="0.62"/>
<rect x="259.46" y="196.8" width="3.00" height="1.60" fill="#ea5250"/>
<rect x="263.87" y="189.2" width="1" height="10.80" fill="#ea5250" fill-opacity="0.62"/>
<rect x="262.87" y="197.6" width="3.00" height="2.20" fill="#ea5250"/>
<rect x="267.29" y="196" width="1" height="18.30" fill="#ea5250" fill-opacity="0.62"/>
<rect x="266.29" y="199.8" width="3.00" height="13.70" fill="#ea5250"/>
<rect x="270.71" y="210" width="1" height="15.00" fill="#ea5250" fill-opacity="0.62"/>
<rect x="269.71" y="214.3" width="3.00" height="3.70" fill="#ea5250"/>
<rect x="274.12" y="208.4" width="1" height="10.90" fill="#22a08e" fill-opacity="0.62"/>
<rect x="273.12" y="216.8" width="3.00" height="1.70" fill="#22a08e"/>
<rect x="277.54" y="210" width="1" height="9.30" fill="#ea5250" fill-opacity="0.62"/>
<rect x="276.54" y="216.8" width="3.00" height="1.70" fill="#ea5250"/>
<rect x="280.96" y="182.6" width="1" height="37.40" fill="#22a08e" fill-opacity="0.62"/>
<rect x="279.96" y="186.7" width="3.00" height="31.80" fill="#22a08e"/>
<rect x="284.37" y="181" width="1" height="12.40" fill="#22a08e" fill-opacity="0.62"/>
<rect x="283.37" y="182" width="3.00" height="4.70" fill="#22a08e"/>
<rect x="287.79" y="180" width="1" height="9.20" fill="#ea5250" fill-opacity="0.62"/>
<rect x="286.79" y="182.6" width="3.00" height="3.40" fill="#ea5250"/>
<rect x="291.21" y="176" width="1" height="11.60" fill="#22a08e" fill-opacity="0.62"/>
<rect x="290.21" y="178.4" width="3.00" height="6.60" fill="#22a08e"/>
<rect x="294.62" y="165" width="1" height="18.40" fill="#22a08e" fill-opacity="0.62"/>
<rect x="293.62" y="172.5" width="3.00" height="5.90" fill="#22a08e"/>
<rect x="298.04" y="170" width="1" height="11.00" fill="#ea5250" fill-opacity="0.62"/>
<rect x="297.04" y="172.5" width="3.00" height="5.10" fill="#ea5250"/>
<rect x="301.46" y="175" width="1" height="11.70" fill="#ea5250" fill-opacity="0.62"/>
<rect x="300.46" y="176.7" width="3.00" height="9.30" fill="#ea5250"/>
<rect x="304.87" y="179.2" width="1" height="11.80" fill="#22a08e" fill-opacity="0.62"/>
<rect x="303.87" y="182.6" width="3.00" height="3.40" fill="#22a08e"/>
<rect x="308.29" y="176" width="1" height="9.00" fill="#22a08e" fill-opacity="0.62"/>
<rect x="307.29" y="178.4" width="3.00" height="4.20" fill="#22a08e"/>
<rect x="311.71" y="168.4" width="1" height="10.80" fill="#22a08e" fill-opacity="0.62"/>
<rect x="310.71" y="176" width="3.00" height="2.40" fill="#22a08e"/>
<rect x="315.12" y="168.4" width="1" height="12.60" fill="#22a08e" fill-opacity="0.62"/>
<rect x="314.12" y="175" width="3.00" height="1.70" fill="#22a08e"/>
<rect x="318.54" y="163.4" width="1" height="13.30" fill="#22a08e" fill-opacity="0.62"/>
<rect x="317.54" y="173" width="3.00" height="3.00" fill="#22a08e"/>
<rect x="321.96" y="165" width="1" height="11.00" fill="#ea5250" fill-opacity="0.62"/>
<rect x="320.96" y="172.5" width="3.00" height="2.50" fill="#ea5250"/>
<rect x="325.37" y="170.9" width="1" height="12.10" fill="#ea5250" fill-opacity="0.62"/>
<rect x="324.37" y="173.4" width="3.00" height="2.60" fill="#ea5250"/>
<rect x="328.79" y="168.4" width="1" height="9.20" fill="#22a08e" fill-opacity="0.62"/>
<rect x="327.79" y="169.2" width="3.00" height="7.50" fill="#22a08e"/>
<rect x="332.21" y="147.5" width="1" height="21.70" fill="#22a08e" fill-opacity="0.62"/>
<rect x="331.21" y="160" width="3.00" height="8.40" fill="#22a08e"/>
<rect x="335.62" y="155.9" width="1" height="25.10" fill="#ea5250" fill-opacity="0.62"/>
<rect x="334.62" y="160" width="3.00" height="9.20" fill="#ea5250"/>
<rect x="339.04" y="159.2" width="1" height="12.80" fill="#ea5250" fill-opacity="0.62"/>
<rect x="338.04" y="165" width="3.00" height="6.70" fill="#ea5250"/>
<rect x="342.46" y="170" width="1" height="10.00" fill="#ea5250" fill-opacity="0.62"/>
<rect x="341.46" y="170.9" width="3.00" height="8.30" fill="#ea5250"/>
<rect x="345.87" y="177.6" width="1" height="20.80" fill="#ea5250" fill-opacity="0.62"/>
<rect x="344.87" y="179.2" width="3.00" height="11.80" fill="#ea5250"/>
<rect x="349.29" y="170.9" width="1" height="23.30" fill="#22a08e" fill-opacity="0.62"/>
<rect x="348.29" y="179.2" width="3.00" height="11.80" fill="#22a08e"/>
<rect x="352.71" y="176.7" width="1" height="10.00" fill="#ea5250" fill-opacity="0.62"/>
<rect x="351.71" y="178.4" width="3.00" height="6.60" fill="#ea5250"/>
<rect x="356.12" y="175" width="1" height="11.70" fill="#22a08e" fill-opacity="0.62"/>
<rect x="355.12" y="183.4" width="3.00" height="1.60" fill="#22a08e"/>
<rect x="359.54" y="179.2" width="1" height="9.20" fill="#ea5250" fill-opacity="0.62"/>
<rect x="358.54" y="182.6" width="3.00" height="1.60" fill="#ea5250"/>
<rect x="362.96" y="179.2" width="1" height="7.50" fill="#22a08e" fill-opacity="0.62"/>
<rect x="361.96" y="180" width="3.00" height="4.20" fill="#22a08e"/>
<rect x="366.37" y="178.4" width="1" height="4.20" fill="#ea5250" fill-opacity="0.62"/>
<rect x="365.37" y="180" width="3.00" height="1.70" fill="#ea5250"/>
<rect x="369.79" y="169.2" width="1" height="13.40" fill="#22a08e" fill-opacity="0.62"/>
<rect x="368.79" y="176" width="3.00" height="5.70" fill="#22a08e"/>
<rect x="373.21" y="173.4" width="1" height="8.30" fill="#ea5250" fill-opacity="0.62"/>
<rect x="372.21" y="176" width="3.00" height="5.00" fill="#ea5250"/>
<rect x="376.62" y="178.4" width="1" height="5.80" fill="#ea5250" fill-opacity="0.62"/>
<rect x="375.62" y="180" width="3.00" height="2.60" fill="#ea5250"/>
<rect x="380.04" y="180" width="1" height="6.70" fill="#ea5250" fill-opacity="0.62"/>
<rect x="379.04" y="182.6" width="3.00" height="3.40" fill="#ea5250"/>
<rect x="383.46" y="185" width="1" height="16.00" fill="#ea5250" fill-opacity="0.62"/>
<rect x="382.46" y="186" width="3.00" height="10.00" fill="#ea5250"/>
<rect x="386.87" y="195" width="1" height="11.00" fill="#ea5250" fill-opacity="0.62"/>
<rect x="385.87" y="196" width="3.00" height="2.40" fill="#ea5250"/>
<rect x="390.29" y="193.4" width="1" height="9.20" fill="#22a08e" fill-opacity="0.62"/>
<rect x="389.29" y="197.6" width="3.00" height="1.60" fill="#22a08e"/>
<rect x="393.71" y="196.8" width="1" height="21.70" fill="#ea5250" fill-opacity="0.62"/>
<rect x="392.71" y="197.6" width="3.00" height="20.00" fill="#ea5250"/>
<rect x="397.12" y="211.8" width="1" height="10.80" fill="#ea5250" fill-opacity="0.62"/>
<rect x="396.12" y="217.6" width="3.00" height="4.20" fill="#ea5250"/>
<rect x="400.54" y="219" width="1" height="11.00" fill="#22a08e" fill-opacity="0.62"/>
<rect x="399.54" y="219.8" width="3.00" height="2.70" fill="#22a08e"/>
<rect x="403.96" y="220.8" width="1" height="8.20" fill="#ea5250" fill-opacity="0.62"/>
<rect x="402.96" y="221.7" width="3.00" height="6.50" fill="#ea5250"/>
<rect x="407.37" y="226.3" width="1" height="20.40" fill="#ea5250" fill-opacity="0.62"/>
<rect x="406.37" y="227.3" width="3.00" height="12.90" fill="#ea5250"/>
<rect x="410.79" y="235.6" width="1" height="9.40" fill="#22a08e" fill-opacity="0.62"/>
<rect x="409.79" y="239.3" width="3.00" height="1.00" fill="#22a08e"/>
<rect x="414.21" y="234.7" width="1" height="10.30" fill="#ea5250" fill-opacity="0.62"/>
<rect x="413.21" y="238.4" width="3.00" height="3.60" fill="#ea5250"/>
<rect x="417.62" y="237.5" width="1" height="5.50" fill="#22a08e" fill-opacity="0.62"/>
<rect x="416.62" y="238.4" width="3.00" height="3.60" fill="#22a08e"/>
<rect x="421.04" y="226.3" width="1" height="13.00" fill="#22a08e" fill-opacity="0.62"/>
<rect x="420.04" y="232" width="3.00" height="6.40" fill="#22a08e"/>
<rect x="424.46" y="228.2" width="1" height="23.20" fill="#ea5250" fill-opacity="0.62"/>
<rect x="423.46" y="232" width="3.00" height="14.70" fill="#ea5250"/>
<rect x="427.87" y="245.8" width="1" height="24.20" fill="#ea5250" fill-opacity="0.62"/>
<rect x="426.87" y="246.7" width="3.00" height="12.10" fill="#ea5250"/>
<rect x="431.29" y="247.7" width="1" height="12.00" fill="#22a08e" fill-opacity="0.62"/>
<rect x="430.29" y="257" width="3.00" height="1.80" fill="#22a08e"/>
<rect x="434.71" y="254" width="1" height="16.90" fill="#ea5250" fill-opacity="0.62"/>
<rect x="433.71" y="257.9" width="3.00" height="10.10" fill="#ea5250"/>
<rect x="438.12" y="267.2" width="1" height="27.80" fill="#ea5250" fill-opacity="0.62"/>
<rect x="437.12" y="268" width="3.00" height="10.30" fill="#ea5250"/>
<rect x="441.54" y="271.8" width="1" height="11.20" fill="#ea5250" fill-opacity="0.62"/>
<rect x="440.54" y="278.3" width="3.00" height="3.70" fill="#ea5250"/>
<rect x="444.96" y="260.7" width="1" height="22.30" fill="#22a08e" fill-opacity="0.62"/>
<rect x="443.96" y="260.7" width="3.00" height="21.30" fill="#22a08e"/>
<rect x="448.37" y="244" width="1" height="17.60" fill="#22a08e" fill-opacity="0.62"/>
<rect x="447.37" y="249.5" width="3.00" height="11.20" fill="#22a08e"/>
<rect x="451.79" y="247.7" width="1" height="14.80" fill="#ea5250" fill-opacity="0.62"/>
<rect x="450.79" y="249.5" width="3.00" height="4.70" fill="#ea5250"/>
<rect x="455.21" y="252.3" width="1" height="8.40" fill="#ea5250" fill-opacity="0.62"/>
<rect x="454.21" y="253.2" width="3.00" height="4.70" fill="#ea5250"/>
<rect x="458.62" y="254.2" width="1" height="7.40" fill="#22a08e" fill-opacity="0.62"/>
<rect x="457.62" y="257" width="3.00" height="1.80" fill="#22a08e"/>
<rect x="462.04" y="244.9" width="1" height="13.00" fill="#22a08e" fill-opacity="0.62"/>
<rect x="461.04" y="246" width="3.00" height="10.80" fill="#22a08e"/>
<rect x="465.46" y="240.6" width="1" height="7.10" fill="#22a08e" fill-opacity="0.62"/>
<rect x="464.46" y="244.3" width="3.00" height="1.80" fill="#22a08e"/>
<rect x="468.87" y="243.3" width="1" height="11.20" fill="#ea5250" fill-opacity="0.62"/>
<rect x="467.87" y="243.3" width="3.00" height="10.30" fill="#ea5250"/>
<rect x="472.29" y="251.7" width="1" height="13.00" fill="#ea5250" fill-opacity="0.62"/>
<rect x="471.29" y="252.6" width="3.00" height="1.90" fill="#ea5250"/>
<rect x="475.71" y="247" width="1" height="9.30" fill="#ea5250" fill-opacity="0.62"/>
<rect x="474.71" y="253.6" width="3.00" height="1.80" fill="#ea5250"/>
<rect x="479.12" y="252.6" width="1" height="7.90" fill="#ea5250" fill-opacity="0.62"/>
<rect x="478.12" y="255.4" width="3.00" height="4.60" fill="#ea5250"/>
<rect x="482.54" y="252.6" width="1" height="9.40" fill="#ea5250" fill-opacity="0.62"/>
<rect x="481.54" y="258.2" width="3.00" height="2.80" fill="#ea5250"/>
<rect x="485.96" y="258.2" width="1" height="24.10" fill="#ea5250" fill-opacity="0.62"/>
<rect x="484.96" y="261" width="3.00" height="13.00" fill="#ea5250"/>
<rect x="489.37" y="271.2" width="1" height="17.60" fill="#ea5250" fill-opacity="0.62"/>
<rect x="488.37" y="273" width="3.00" height="6.50" fill="#ea5250"/>
<rect x="492.79" y="278.6" width="1" height="30.60" fill="#ea5250" fill-opacity="0.62"/>
<rect x="491.79" y="279.5" width="3.00" height="20.50" fill="#ea5250"/>
<rect x="496.21" y="290.7" width="1" height="14.80" fill="#22a08e" fill-opacity="0.62"/>
<rect x="495.21" y="297.2" width="3.00" height="1.80" fill="#22a08e"/>
<rect x="499.62" y="296" width="1" height="13.20" fill="#ea5250" fill-opacity="0.62"/>
<rect x="498.62" y="296.2" width="3.00" height="3.80" fill="#ea5250"/>
<rect x="503.04" y="284.2" width="1" height="22.20" fill="#22a08e" fill-opacity="0.62"/>
<rect x="502.04" y="288.8" width="3.00" height="11.20" fill="#22a08e"/>
<rect x="506.46" y="283.2" width="1" height="23.20" fill="#ea5250" fill-opacity="0.62"/>
<rect x="505.46" y="288.8" width="3.00" height="11.20" fill="#ea5250"/>
<rect x="509.87" y="280.5" width="1" height="25.90" fill="#22a08e" fill-opacity="0.62"/>
<rect x="508.87" y="295.3" width="3.00" height="4.70" fill="#22a08e"/>
<rect x="513.29" y="293.4" width="1" height="10.20" fill="#ea5250" fill-opacity="0.62"/>
<rect x="512.29" y="294.4" width="3.00" height="8.30" fill="#ea5250"/>
<rect x="516.71" y="292.5" width="1" height="21.30" fill="#ea5250" fill-opacity="0.62"/>
<rect x="515.71" y="302.7" width="3.00" height="10.30" fill="#ea5250"/>
<rect x="520.12" y="309.2" width="1" height="12.10" fill="#ea5250" fill-opacity="0.62"/>
<rect x="519.12" y="310.1" width="3.00" height="3.70" fill="#ea5250"/>
<rect x="523.54" y="305.5" width="1" height="13.90" fill="#22a08e" fill-opacity="0.62"/>
<rect x="522.54" y="311" width="3.00" height="2.00" fill="#22a08e"/>
<rect x="526.96" y="306.4" width="1" height="9.60" fill="#22a08e" fill-opacity="0.62"/>
<rect x="525.96" y="309.2" width="3.00" height="2.30" fill="#22a08e"/>
<rect x="530.38" y="300.2" width="1" height="10.40" fill="#22a08e" fill-opacity="0.62"/>
<rect x="529.38" y="305.8" width="3.00" height="4.20" fill="#22a08e"/>
<rect x="533.79" y="305" width="1" height="10.50" fill="#ea5250" fill-opacity="0.62"/>
<rect x="532.79" y="305.8" width="3.00" height="6.20" fill="#ea5250"/>
<rect x="537.21" y="307.8" width="1" height="11.20" fill="#22a08e" fill-opacity="0.62"/>
<rect x="536.21" y="310" width="3.00" height="1.30" fill="#22a08e"/>
<rect x="540.63" y="305" width="1" height="7.00" fill="#22a08e" fill-opacity="0.62"/>
<rect x="539.63" y="308.5" width="3.00" height="2.10" fill="#22a08e"/>
<rect x="544.04" y="307.8" width="1" height="11.90" fill="#ea5250" fill-opacity="0.62"/>
<rect x="543.04" y="308.5" width="3.00" height="4.90" fill="#ea5250"/>
<rect x="547.46" y="307.8" width="1" height="8.40" fill="#22a08e" fill-opacity="0.62"/>
<rect x="546.46" y="311.3" width="3.00" height="2.10" fill="#22a08e"/>
<rect x="550.88" y="307.2" width="1" height="6.80" fill="#22a08e" fill-opacity="0.62"/>
<rect x="549.88" y="307.8" width="3.00" height="5.60" fill="#22a08e"/>
<rect x="554.29" y="302.3" width="1" height="7.70" fill="#22a08e" fill-opacity="0.62"/>
<rect x="553.29" y="303" width="3.00" height="5.50" fill="#22a08e"/>
<rect x="557.71" y="286.3" width="1" height="20.20" fill="#22a08e" fill-opacity="0.62"/>
<rect x="556.71" y="293.2" width="3.00" height="9.80" fill="#22a08e"/>
<rect x="561.13" y="289.8" width="1" height="8.30" fill="#ea5250" fill-opacity="0.62"/>
<rect x="560.13" y="292.6" width="3.00" height="3.40" fill="#ea5250"/>
<rect x="564.54" y="287" width="1" height="9.70" fill="#22a08e" fill-opacity="0.62"/>
<rect x="563.54" y="287.7" width="3.00" height="8.30" fill="#22a08e"/>
<rect x="567.96" y="285.6" width="1" height="7.60" fill="#ea5250" fill-opacity="0.62"/>
<rect x="566.96" y="287.7" width="3.00" height="4.90" fill="#ea5250"/>
<rect x="571.38" y="291.2" width="1" height="3.40" fill="#ea5250" fill-opacity="0.62"/>
<rect x="570.38" y="291.9" width="3.00" height="1.30" fill="#ea5250"/>
<rect x="574.79" y="284.2" width="1" height="12.50" fill="#22a08e" fill-opacity="0.62"/>
<rect x="573.79" y="291.9" width="3.00" height="1.30" fill="#22a08e"/>
<rect x="578.21" y="286.3" width="1" height="6.30" fill="#22a08e" fill-opacity="0.62"/>
<rect x="577.21" y="289" width="3.00" height="2.90" fill="#22a08e"/>
<rect x="581.63" y="287.7" width="1" height="6.90" fill="#ea5250" fill-opacity="0.62"/>
<rect x="580.63" y="288.4" width="3.00" height="3.50" fill="#ea5250"/>
<rect x="585.04" y="263.3" width="1" height="28.60" fill="#22a08e" fill-opacity="0.62"/>
<rect x="584.04" y="273.8" width="3.00" height="17.40" fill="#22a08e"/>
<rect x="588.46" y="271" width="1" height="8.30" fill="#ea5250" fill-opacity="0.62"/>
<rect x="587.46" y="273.8" width="3.00" height="3.50" fill="#ea5250"/>
<rect x="591.88" y="262" width="1" height="16.00" fill="#22a08e" fill-opacity="0.62"/>
<rect x="590.88" y="268.9" width="3.00" height="8.40" fill="#22a08e"/>
<rect x="595.29" y="267.5" width="1" height="7.00" fill="#ea5250" fill-opacity="0.62"/>
<rect x="594.29" y="268.9" width="3.00" height="4.90" fill="#ea5250"/>
<rect x="598.71" y="271.7" width="1" height="10.40" fill="#ea5250" fill-opacity="0.62"/>
<rect x="597.71" y="273.8" width="3.00" height="6.90" fill="#ea5250"/>
<rect x="602.13" y="278.6" width="1" height="3.50" fill="#22a08e" fill-opacity="0.62"/>
<rect x="601.13" y="279.8" width="3.00" height="1.00" fill="#22a08e"/>
<rect x="605.54" y="279.3" width="1" height="7.00" fill="#ea5250" fill-opacity="0.62"/>
<rect x="604.54" y="280" width="3.00" height="2.10" fill="#ea5250"/>
<rect x="608.96" y="277.3" width="1" height="5.50" fill="#22a08e" fill-opacity="0.62"/>
<rect x="607.96" y="279.3" width="3.00" height="2.80" fill="#22a08e"/>
<rect x="612.38" y="278.6" width="1" height="9.10" fill="#ea5250" fill-opacity="0.62"/>
<rect x="611.38" y="278.6" width="3.00" height="8.40" fill="#ea5250"/>
<rect x="615.79" y="283.5" width="1" height="7.00" fill="#ea5250" fill-opacity="0.62"/>
<rect x="614.79" y="284.9" width="3.00" height="2.80" fill="#ea5250"/>
<rect x="619.21" y="287" width="1" height="15.30" fill="#ea5250" fill-opacity="0.62"/>
<rect x="618.21" y="287" width="3.00" height="12.50" fill="#ea5250"/>
<rect x="622.63" y="296" width="1" height="7.70" fill="#ea5250" fill-opacity="0.62"/>
<rect x="621.63" y="296.7" width="3.00" height="3.50" fill="#ea5250"/>
<rect x="626.04" y="294" width="1" height="6.90" fill="#22a08e" fill-opacity="0.62"/>
<rect x="625.04" y="294.6" width="3.00" height="5.60" fill="#22a08e"/>
<rect x="629.46" y="291.2" width="1" height="5.50" fill="#22a08e" fill-opacity="0.62"/>
<rect x="628.46" y="294" width="3.00" height="2.00" fill="#22a08e"/>
<rect x="632.88" y="287" width="1" height="8.30" fill="#22a08e" fill-opacity="0.62"/>
<rect x="631.88" y="291.2" width="3.00" height="2.80" fill="#22a08e"/>
<rect x="636.29" y="291.2" width="1" height="5.50" fill="#ea5250" fill-opacity="0.62"/>
<rect x="635.29" y="291.9" width="3.00" height="3.40" fill="#ea5250"/>
<rect x="639.71" y="294" width="1" height="12.50" fill="#ea5250" fill-opacity="0.62"/>
<rect x="638.71" y="294.6" width="3.00" height="4.20" fill="#ea5250"/>
<rect x="643.13" y="284.2" width="1" height="15.30" fill="#22a08e" fill-opacity="0.62"/>
<rect x="642.13" y="297.4" width="3.00" height="1.40" fill="#22a08e"/>
<rect x="646.54" y="294" width="1" height="6.20" fill="#ea5250" fill-opacity="0.62"/>
<rect x="645.54" y="296" width="3.00" height="1.40" fill="#ea5250"/>
<rect x="649.96" y="288.6" width="1" height="11.50" fill="#22a08e" fill-opacity="0.62"/>
<rect x="648.96" y="292.5" width="3.00" height="5.50" fill="#22a08e"/>
<rect x="653.38" y="291.8" width="1" height="5.70" fill="#ea5250" fill-opacity="0.62"/>
<rect x="652.38" y="292.9" width="3.00" height="3.10" fill="#ea5250"/>
<rect x="656.79" y="295" width="1" height="7.00" fill="#ea5250" fill-opacity="0.62"/>
<rect x="655.79" y="296" width="3.00" height="3.00" fill="#ea5250"/>
<rect x="660.21" y="287.8" width="1" height="12.20" fill="#22a08e" fill-opacity="0.62"/>
<rect x="659.21" y="291.8" width="3.00" height="7.20" fill="#22a08e"/>
<rect x="663.63" y="290.8" width="1" height="8.20" fill="#ea5250" fill-opacity="0.62"/>
<rect x="662.63" y="291.8" width="3.00" height="6.20" fill="#ea5250"/>
<rect x="667.04" y="296" width="1" height="15.20" fill="#ea5250" fill-opacity="0.62"/>
<rect x="666.04" y="297" width="3.00" height="13.20" fill="#ea5250"/>
<rect x="670.46" y="301" width="1" height="11.20" fill="#ea5250" fill-opacity="0.62"/>
<rect x="669.46" y="309.2" width="3.00" height="1.00" fill="#ea5250"/>
<rect x="673.88" y="304" width="1" height="12.30" fill="#ea5250" fill-opacity="0.62"/>
<rect x="672.88" y="309.2" width="3.00" height="1.00" fill="#ea5250"/>
<rect x="677.29" y="305" width="1" height="8.30" fill="#ea5250" fill-opacity="0.62"/>
<rect x="676.29" y="309.2" width="3.00" height="2.00" fill="#ea5250"/>
<rect x="680.71" y="307" width="1" height="13.40" fill="#ea5250" fill-opacity="0.62"/>
<rect x="679.71" y="310.2" width="3.00" height="4.10" fill="#ea5250"/>
<rect x="684.13" y="310.2" width="1" height="6.10" fill="#22a08e" fill-opacity="0.62"/>
<rect x="683.13" y="313.3" width="3.00" height="1.00" fill="#22a08e"/>
<rect x="687.54" y="312.2" width="1" height="12.30" fill="#ea5250" fill-opacity="0.62"/>
<rect x="686.54" y="313.3" width="3.00" height="8.10" fill="#ea5250"/>
<rect x="690.96" y="312.2" width="1" height="10.20" fill="#22a08e" fill-opacity="0.62"/>
<rect x="689.96" y="313.3" width="3.00" height="8.10" fill="#22a08e"/>
<rect x="694.38" y="306" width="1" height="8.30" fill="#22a08e" fill-opacity="0.62"/>
<rect x="693.38" y="307" width="3.00" height="6.30" fill="#22a08e"/>
<rect x="697.79" y="306" width="1" height="50.10" fill="#ea5250" fill-opacity="0.62"/>
<rect x="696.79" y="307" width="3.00" height="13.40" fill="#ea5250"/>
<rect x="701.21" y="301" width="1" height="20.40" fill="#22a08e" fill-opacity="0.62"/>
<rect x="700.21" y="307" width="3.00" height="13.40" fill="#22a08e"/>
<rect x="704.63" y="273.5" width="1" height="35.70" fill="#22a08e" fill-opacity="0.62"/>
<rect x="703.63" y="302" width="3.00" height="6.20" fill="#22a08e"/>
<rect x="708.04" y="287.8" width="1" height="15.20" fill="#22a08e" fill-opacity="0.62"/>
<rect x="707.04" y="288.8" width="3.00" height="13.20" fill="#22a08e"/>
<rect x="711.46" y="266.8" width="1" height="22.90" fill="#22a08e" fill-opacity="0.62"/>
<rect x="710.46" y="276.3" width="3.00" height="12.60" fill="#22a08e"/>
<rect x="714.88" y="266.8" width="1" height="12.60" fill="#22a08e" fill-opacity="0.62"/>
<rect x="713.88" y="271.5" width="3.00" height="4.80" fill="#22a08e"/>
<rect x="718.29" y="258.1" width="1" height="15.90" fill="#ea5250" fill-opacity="0.62"/>
<rect x="717.29" y="270.8" width="3.00" height="2.30" fill="#ea5250"/>
<rect x="721.71" y="262.9" width="1" height="15.70" fill="#22a08e" fill-opacity="0.62"/>
<rect x="720.71" y="271.5" width="3.00" height="1.60" fill="#22a08e"/>
<rect x="725.13" y="264.4" width="1" height="10.30" fill="#ea5250" fill-opacity="0.62"/>
<rect x="724.13" y="270.8" width="3.00" height="3.20" fill="#ea5250"/>
<rect x="728.54" y="260.5" width="1" height="13.50" fill="#22a08e" fill-opacity="0.62"/>
<rect x="727.54" y="262" width="3.00" height="11.10" fill="#22a08e"/>
<rect x="731.96" y="250.3" width="1" height="12.60" fill="#22a08e" fill-opacity="0.62"/>
<rect x="730.96" y="258.1" width="3.00" height="3.90" fill="#22a08e"/>
<rect x="735.38" y="256.6" width="1" height="18.10" fill="#ea5250" fill-opacity="0.62"/>
<rect x="734.38" y="257.4" width="3.00" height="16.60" fill="#ea5250"/>
<rect x="738.79" y="274" width="1" height="7.80" fill="#ea5250" fill-opacity="0.62"/>
<rect x="737.79" y="274.7" width="3.00" height="3.20" fill="#ea5250"/>
<rect x="742.21" y="258.1" width="1" height="19.80" fill="#22a08e" fill-opacity="0.62"/>
<rect x="741.21" y="274.7" width="3.00" height="2.30" fill="#22a08e"/>
<rect x="745.63" y="265.2" width="1" height="10.30" fill="#22a08e" fill-opacity="0.62"/>
<rect x="744.63" y="272.3" width="3.00" height="2.40" fill="#22a08e"/>
<rect x="749.04" y="264.4" width="1" height="18.20" fill="#ea5250" fill-opacity="0.62"/>
<rect x="748.04" y="272.3" width="3.00" height="9.50" fill="#ea5250"/>
<rect x="752.46" y="274.7" width="1" height="21.30" fill="#22a08e" fill-opacity="0.62"/>
<rect x="751.46" y="277" width="3.00" height="3.20" fill="#22a08e"/>
<rect x="755.88" y="273.1" width="1" height="15.80" fill="#ea5250" fill-opacity="0.62"/>
<rect x="754.88" y="277" width="3.00" height="4.80" fill="#ea5250"/>
<rect x="759.29" y="280.2" width="1" height="7.10" fill="#ea5250" fill-opacity="0.62"/>
<rect x="758.29" y="281" width="3.00" height="4.70" fill="#ea5250"/>
<rect x="762.71" y="281.8" width="1" height="18.90" fill="#ea5250" fill-opacity="0.62"/>
<rect x="761.71" y="285.7" width="3.00" height="12.70" fill="#ea5250"/>
<rect x="766.13" y="295.2" width="1" height="17.40" fill="#ea5250" fill-opacity="0.62"/>
<rect x="765.13" y="297.6" width="3.00" height="14.20" fill="#ea5250"/>
<rect x="769.54" y="310.2" width="1" height="13.40" fill="#ea5250" fill-opacity="0.62"/>
<rect x="768.54" y="311" width="3.00" height="3.10" fill="#ea5250"/>
<rect x="772.96" y="306.7" width="1" height="9.30" fill="#22a08e" fill-opacity="0.62"/>
<rect x="771.96" y="307.8" width="3.00" height="6.30" fill="#22a08e"/>
<rect x="776.38" y="297.6" width="1" height="11.80" fill="#22a08e" fill-opacity="0.62"/>
<rect x="775.38" y="302.6" width="3.00" height="5.20" fill="#22a08e"/>
<rect x="779.79" y="299.2" width="1" height="7.50" fill="#ea5250" fill-opacity="0.62"/>
<rect x="778.79" y="302.6" width="3.00" height="3.30" fill="#ea5250"/>
<rect x="783.21" y="305" width="1" height="14.30" fill="#ea5250" fill-opacity="0.62"/>
<rect x="782.21" y="305.9" width="3.00" height="7.50" fill="#ea5250"/>
<rect x="786.63" y="305" width="1" height="15.00" fill="#22a08e" fill-opacity="0.62"/>
<rect x="785.63" y="310" width="3.00" height="2.60" fill="#22a08e"/>
<rect x="790.04" y="276.7" width="1" height="35.00" fill="#22a08e" fill-opacity="0.62"/>
<rect x="789.04" y="290" width="3.00" height="20.00" fill="#22a08e"/>
<rect x="793.46" y="287.5" width="1" height="7.50" fill="#ea5250" fill-opacity="0.62"/>
<rect x="792.46" y="290" width="3.00" height="4.20" fill="#ea5250"/>
<rect x="796.88" y="293.4" width="1" height="17.50" fill="#ea5250" fill-opacity="0.62"/>
<rect x="795.88" y="294.2" width="3.00" height="15.80" fill="#ea5250"/>
<rect x="800.29" y="308.4" width="1" height="10.00" fill="#ea5250" fill-opacity="0.62"/>
<rect x="799.29" y="310" width="3.00" height="3.40" fill="#ea5250"/>
<rect x="803.71" y="305" width="1" height="14.30" fill="#ea5250" fill-opacity="0.62"/>
<rect x="802.71" y="313.4" width="3.00" height="1.60" fill="#ea5250"/>
<rect x="807.13" y="305.9" width="1" height="20.90" fill="#22a08e" fill-opacity="0.62"/>
<rect x="806.13" y="312.6" width="3.00" height="2.40" fill="#22a08e"/>
<rect x="810.54" y="311.7" width="1" height="9.20" fill="#ea5250" fill-opacity="0.62"/>
<rect x="809.54" y="312.6" width="3.00" height="7.40" fill="#ea5250"/>
<rect x="813.96" y="314.2" width="1" height="19.20" fill="#ea5250" fill-opacity="0.62"/>
<rect x="812.96" y="320" width="3.00" height="8.40" fill="#ea5250"/>
<rect x="817.38" y="324.3" width="1" height="19.20" fill="#ea5250" fill-opacity="0.62"/>
<rect x="816.38" y="327.6" width="3.00" height="10.90" fill="#ea5250"/>
<rect x="820.79" y="330.1" width="1" height="9.20" fill="#22a08e" fill-opacity="0.62"/>
<rect x="819.79" y="330.1" width="3.00" height="8.40" fill="#22a08e"/>
<line x1="7.6" y1="331.4" x2="971.6" y2="331.4" stroke="#7d8c89" stroke-opacity="0.6" stroke-width="1" stroke-dasharray="1,1.2"/>
<line x1="7.6" y1="388.4" x2="971.6" y2="388.4" stroke="#55699a" stroke-width="1" stroke-dasharray="4,4.315"/>
<polyline points="822,329 837.7,276.9 885.3,374.7" fill="none" stroke="#a843c0" stroke-width="1"/>
<polyline points="880.3,372.4 885.3,374.7 887.5,369.1" fill="none" stroke="#a843c0" stroke-width="1"/>
<line x1="823.9" y1="341.8" x2="844.1" y2="386.9" stroke="#34448a" stroke-width="1"/>
<polyline points="839.3,385.1 844.1,386.9 846.7,381.7" fill="none" stroke="#34448a" stroke-width="1"/>
<line x1="971.6" y1="20.5" x2="971.6" y2="493.1" stroke="#e3e5e9" stroke-width="1"/>
<line x1="7.6" y1="472.3" x2="1016.4" y2="472.3" stroke="#eceef1" stroke-width="1"/>
<text x="13.55" y="36.8" font-size="9.3" fill="#131722" textLength="42.10" lengthAdjust="spacingAndGlyphs">XRPUSDT</text>
<text x="63.60" y="36.8" font-size="9.3" fill="#131722" textLength="17.50" lengthAdjust="spacingAndGlyphs">XRP</text>
<text x="83.40" y="36.8" font-size="9.3" fill="#131722" textLength="3.00" lengthAdjust="spacingAndGlyphs">/</text>
<text x="90.30" y="36.8" font-size="9.3" fill="#131722" textLength="39.00" lengthAdjust="spacingAndGlyphs">TetherUS</text>
<text x="136.90" y="36.8" font-size="9.3" fill="#131722" textLength="9.60" lengthAdjust="spacingAndGlyphs">1h</text>
<text x="154.50" y="36.8" font-size="9.3" fill="#131722" textLength="33.50" lengthAdjust="spacingAndGlyphs">Binance</text>
<text x="193.35" y="36.8" font-size="9.3" fill="#131722" textLength="7.11" lengthAdjust="spacingAndGlyphs">O</text>
<text x="200.60" y="36.8" font-size="9.3" fill="#22ab94" textLength="28.15" lengthAdjust="spacingAndGlyphs">1.3074</text>
<text x="233.50" y="36.8" font-size="9.3" fill="#131722" textLength="7.30" lengthAdjust="spacingAndGlyphs">H</text>
<text x="240.90" y="36.8" font-size="9.3" fill="#22ab94" textLength="26.80" lengthAdjust="spacingAndGlyphs">1.3129</text>
<text x="273.30" y="36.8" font-size="9.3" fill="#131722" textLength="4.90" lengthAdjust="spacingAndGlyphs">L</text>
<text x="279.10" y="36.8" font-size="9.3" fill="#22ab94" textLength="27.20" lengthAdjust="spacingAndGlyphs">1.3070</text>
<text x="311.50" y="36.8" font-size="9.3" fill="#131722" textLength="6.60" lengthAdjust="spacingAndGlyphs">C</text>
<text x="318.70" y="36.8" font-size="9.3" fill="#22ab94" textLength="26.70" lengthAdjust="spacingAndGlyphs">1.3120</text>
<text x="350.70" y="36.8" font-size="9.3" fill="#22ab94" textLength="36.00" lengthAdjust="spacingAndGlyphs">+0.0047</text>
<text x="389.40" y="36.8" font-size="9.3" fill="#22ab94" textLength="39.10" lengthAdjust="spacingAndGlyphs">(+0.36%)</text>
<text x="434.70" y="36.8" font-size="9.3" fill="#131722" textLength="13.00" lengthAdjust="spacingAndGlyphs">Vol</text>
<text x="447.50" y="36.8" font-size="9.3" fill="#22ab94" textLength="19.40" lengthAdjust="spacingAndGlyphs">2.15</text>
<text x="467.60" y="36.8" font-size="9.3" fill="#22ab94" textLength="6.90" lengthAdjust="spacingAndGlyphs">M</text>
<circle cx="60.1" cy="34.3" r="0.65" fill="#131722"/>
<circle cx="132.9" cy="34.3" r="0.65" fill="#131722"/>
<circle cx="150" cy="34.3" r="0.65" fill="#131722"/>
<text x="13.55" y="49.8" font-size="9.3" fill="#131722" textLength="13.10" lengthAdjust="spacingAndGlyphs">Vol</text>
<text x="34.60" y="49.8" font-size="9.3" fill="#131722" textLength="17.10" lengthAdjust="spacingAndGlyphs">XRP</text>
<text x="57.50" y="49.8" font-size="9.3" fill="#22ab94" textLength="19.40" lengthAdjust="spacingAndGlyphs">2.15</text>
<text x="77.60" y="49.8" font-size="9.3" fill="#22ab94" textLength="6.60" lengthAdjust="spacingAndGlyphs">M</text>
<circle cx="30.7" cy="47.2" r="0.65" fill="#131722"/>
<rect x="973.5" y="23.9" width="39.5" height="18.4" rx="1" fill="#fff" stroke="#f0f1f3" stroke-width="0.8"/>
<text x="981" y="36.8" font-size="9.8" fill="#131722" textLength="23.8" lengthAdjust="spacingAndGlyphs">USDT</text>
<text x="978.6" y="66.7" font-size="9.7" fill="#131722" textLength="30.6" lengthAdjust="spacingAndGlyphs">1.5000</text>
<text x="978.6" y="93.7" font-size="9.7" fill="#131722" textLength="30.6" lengthAdjust="spacingAndGlyphs">1.4800</text>
<text x="978.6" y="148.2" font-size="9.7" fill="#131722" textLength="30.6" lengthAdjust="spacingAndGlyphs">1.4400</text>
<text x="978.6" y="176.7" font-size="9.7" fill="#131722" textLength="30.6" lengthAdjust="spacingAndGlyphs">1.4200</text>
<text x="978.6" y="205.2" font-size="9.7" fill="#131722" textLength="30.6" lengthAdjust="spacingAndGlyphs">1.4000</text>
<text x="978.6" y="234.1" font-size="9.7" fill="#131722" textLength="30.6" lengthAdjust="spacingAndGlyphs">1.3800</text>
<text x="978.6" y="263.3" font-size="9.7" fill="#131722" textLength="30.6" lengthAdjust="spacingAndGlyphs">1.3600</text>
<text x="978.6" y="292.3" font-size="9.7" fill="#131722" textLength="30.6" lengthAdjust="spacingAndGlyphs">1.3400</text>
<text x="978.6" y="322.7" font-size="9.7" fill="#131722" textLength="30.6" lengthAdjust="spacingAndGlyphs">1.3200</text>
<text x="978.6" y="346.0" font-size="9.7" fill="#131722" textLength="30.6" lengthAdjust="spacingAndGlyphs">1.3050</text>
<text x="978.6" y="369.4" font-size="9.7" fill="#131722" textLength="30.6" lengthAdjust="spacingAndGlyphs">1.2900</text>
<text x="978.6" y="415.5" font-size="9.7" fill="#131722" textLength="30.6" lengthAdjust="spacingAndGlyphs">1.2600</text>
<text x="978.6" y="441.7" font-size="9.7" fill="#131722" textLength="30.6" lengthAdjust="spacingAndGlyphs">1.2440</text>
<text x="978.6" y="464.3" font-size="9.7" fill="#131722" textLength="30.6" lengthAdjust="spacingAndGlyphs">1.2300</text>
<path d="M971.9 110.1 H1011.7 Q1013.2 110.1 1013.2 111.6 V121.2 Q1013.2 122.7 1011.7 122.7 H971.9 Z" fill="#9c27b0"/>
<text x="978.6" y="120.0" font-size="9.7" fill="#fff" textLength="30.6" lengthAdjust="spacingAndGlyphs">1.4606</text>
<path d="M971.9 288.5 H1011.7 Q1013.2 288.5 1013.2 290.0 V299.6 Q1013.2 301.1 1011.7 301.1 H971.9 Z" fill="#9c27b0"/>
<text x="978.6" y="298.4" font-size="9.7" fill="#fff" textLength="30.6" lengthAdjust="spacingAndGlyphs">1.3362</text>
<path d="M971.9 325.2 H1011.7 Q1013.2 325.2 1013.2 326.7 V336.3 Q1013.2 337.8 1011.7 337.8 H971.9 Z" fill="#22ab94"/>
<text x="978.6" y="335.1" font-size="9.7" fill="#fff" textLength="30.6" lengthAdjust="spacingAndGlyphs">1.3120</text>
<path d="M971.9 382.4 H1011.7 Q1013.2 382.4 1013.2 383.9 V393.5 Q1013.2 395.0 1011.7 395.0 H971.9 Z" fill="#2962ff"/>
<text x="978.6" y="392.3" font-size="9.7" fill="#fff" textLength="30.6" lengthAdjust="spacingAndGlyphs">1.2751</text>
<text x="73.2" y="487.2" font-size="9.5" letter-spacing="0.3" fill="#131722" text-anchor="middle">22</text>
<text x="155.20000000000002" y="487.2" font-size="9.5" letter-spacing="0.3" fill="#131722" text-anchor="middle">23</text>
<text x="237.15" y="487.2" font-size="9.5" letter-spacing="0.3" fill="#131722" text-anchor="middle">24</text>
<text x="319.15" y="487.2" font-size="9.5" letter-spacing="0.3" fill="#131722" text-anchor="middle">25</text>
<text x="401.15" y="487.2" font-size="9.5" letter-spacing="0.3" fill="#131722" text-anchor="middle">26</text>
<text x="483.15" y="487.2" font-size="9.5" letter-spacing="0.3" fill="#131722" text-anchor="middle">27</text>
<text x="565.15" y="487.2" font-size="9.5" letter-spacing="0.3" fill="#131722" text-anchor="middle">28</text>
<text x="647.15" y="487.2" font-size="9.5" letter-spacing="0.3" fill="#131722" text-anchor="middle">29</text>
<text x="729.15" y="487.2" font-size="9.5" letter-spacing="0.3" fill="#131722" text-anchor="middle">30</text>
<text x="810.65" y="487.2" font-size="9.5" letter-spacing="0.3" fill="#131722" text-anchor="middle">31</text>
<text x="892" y="487.2" font-size="9.6" font-weight="bold" fill="#131722" text-anchor="middle" textLength="15.8" lengthAdjust="spacingAndGlyphs">Apr</text>
<g transform="translate(9.3,507.8) scale(0.628)"><path d="M14 22H7V11H0V4h14v18zM28 22h-8l7.5-18h8L28 22z" fill="#000"/><circle cx="20" cy="8" r="4" fill="#000"/></g>
<text x="37.3" y="521.7" font-size="16.4" font-weight="bold" fill="#000" textLength="90.9" lengthAdjust="spacingAndGlyphs">TradingView</text>
</svg></body></html>
